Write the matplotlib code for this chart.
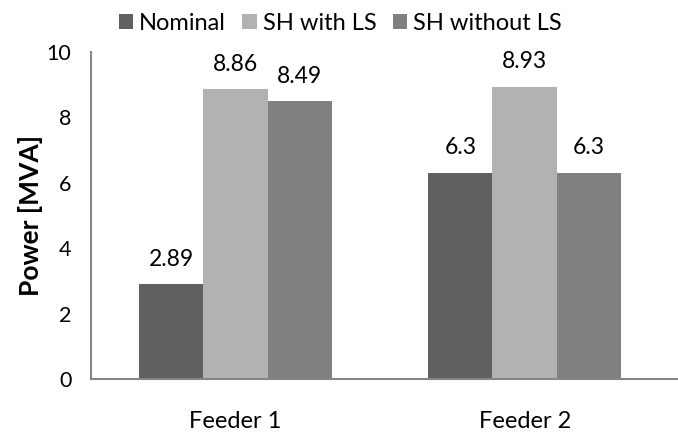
import numpy as np
import matplotlib.pyplot as plt

plt.rcParams['font.family'] = ['Lato', 'DejaVu Sans']

feeders = ["Feeder 1", "Feeder 2"]
series = ["Nominal", "SH with LS", "SH without LS"]
nominal = [2.89, 6.3]
sh_with_ls = [8.86, 8.93]
sh_without_ls = [8.49, 6.3]
labels_txt = [["2.89", "6.3"], ["8.86", "8.93"], ["8.49", "6.3"]]
colors = ["#606060", "#b2b2b2", "#808080"]

W, H = 678, 436
fig = plt.figure(figsize=(W / 100, H / 100), dpi=100)
# plot area in pixels: left 90.7, right 678, top 52, bottom 379
ax = fig.add_axes([90.7 / W, 1 - 379 / H, 1 - 90.7 / W, (379 - 52) / H])

x = np.arange(len(feeders))
w = 0.2226
for i, (vals, name) in enumerate(zip([nominal, sh_with_ls, sh_without_ls], series)):
    pos = x + (i - 1) * w
    ax.bar(pos, vals, width=w, color=colors[i], label=name)
    for p, v, t in zip(pos, vals, labels_txt[i]):
        ax.annotate(t, (p, v), xytext=(0, 10.5), textcoords="offset points",
                    ha="center", va="bottom", fontsize=16.5)

ax.set_xlim(-0.5, 1.53)
ax.set_ylim(0, 10)
ax.set_yticks([0, 2, 4, 6, 8, 10])
ax.set_xticks(x)
ax.set_xticklabels(feeders)
ax.tick_params(axis="both", length=0)
ax.tick_params(axis="y", pad=14, labelsize=15.5)
ax.tick_params(axis="x", pad=23, labelsize=17)
for s in ["top", "right"]:
    ax.spines[s].set_visible(False)
for s in ["left", "bottom"]:
    ax.spines[s].set_color("#868686")
    ax.spines[s].set_linewidth(1.5)

ax.set_ylabel("Power [MVA]", fontsize=19, fontweight="bold")
ax.yaxis.set_label_coords((43 - 90.7) / (W - 90.7), 0.5)
ax.legend(loc="center left", bbox_to_anchor=(119 / W, 1 - 23 / H), bbox_transform=fig.transFigure,
          ncol=3, frameon=False, fontsize=17, handlelength=0.6, handleheight=0.6,
          handletextpad=0.25, columnspacing=0.7, borderpad=0, borderaxespad=0)

fig.savefig("out.png", dpi=100)
